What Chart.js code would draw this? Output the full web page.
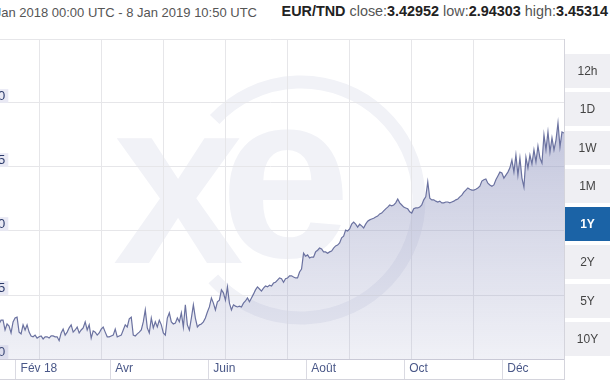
<!DOCTYPE html>
<html lang="fr">
<head>
<meta charset="utf-8">
<title>EUR/TND 1Y</title>
<script src="https://cdn.jsdelivr.net/npm/chart.js@4.4.1/dist/chart.umd.min.js"></script>
<style>
  html, body { margin: 0; padding: 0; background: #fff; overflow: hidden; }
  body { width: 610px; height: 380px; position: relative; font-family: "Liberation Sans", Arial, sans-serif; }
  #rango { position: absolute; top: 5px; right: 353px; white-space: nowrap; font-size: 13px; color: #555; }
  #cotation { position: absolute; top: 3px; right: 2px; white-space: nowrap; font-size: 14.4px; color: #555; }
  #cotation b { color: #222; }
  #wrap { position: absolute; left: -40px; top: 0; width: 605px; height: 380px; }
  .linea { position: absolute; background: #d4d4dc; }
  #botones { position: absolute; left: 565px; top: 54px; width: 45px; }
  #botones div { height: 34px; line-height: 34px; margin-bottom: 4.3px; background: #efeff3; text-align: center; font-size: 12px; color: #444; }
  #botones div.activo { background: #1b63a6; color: #fff; font-weight: bold; }
</style>
</head>
<body>
<div id="rango">8 Jan 2018 00:00 UTC - 8 Jan 2019 10:50 UTC</div>
<div id="cotation"><b>EUR/TND</b> close:<b>3.42952</b> low:<b>2.94303</b> high:<b>3.45314</b></div>
<div id="wrap"><canvas id="grafico"></canvas></div>
<div class="linea" style="left:564px; top:39px; width:1px; height:341px;"></div>
<div class="linea" style="left:0; top:379px; width:565px; height:1px;"></div>
<div id="botones">
  <div>12h</div><div>1D</div><div>1W</div><div>1M</div><div class="activo">1Y</div><div>2Y</div><div>5Y</div><div>10Y</div>
</div>
<script>
// EUR/TND, cotations du 8 Jan 2018 au 8 Jan 2019 (pas régulier)
const rates = [
  2.982, 2.996, 2.973, 2.987, 2.968, 2.996, 2.980, 2.963, 2.991, 2.975,
  2.998, 2.982, 2.991, 2.991, 2.968, 2.982, 2.977, 2.961, 2.987, 2.996,
  2.998, 2.963, 2.959, 2.980, 2.968, 2.980, 2.963, 2.954, 2.952, 2.956,
  2.949, 2.952, 2.954, 2.947, 2.952, 2.952, 2.949, 2.954, 2.954, 2.952,
  2.952, 2.943, 2.961, 2.970, 2.956, 2.963, 2.973, 2.980, 2.963, 2.968,
  2.975, 2.961, 2.968, 2.973, 2.987, 2.968, 2.980, 2.949, 2.966, 2.963,
  2.956, 2.961, 2.970, 2.975, 2.963, 2.952, 2.952, 2.954, 2.956, 2.970,
  2.952, 2.954, 2.956, 2.968, 2.980, 2.975, 2.994, 2.998, 2.956, 2.954,
  2.959, 2.963, 2.968, 2.987, 3.015, 2.973, 2.961, 2.996, 2.973, 2.987,
  2.975, 2.991, 2.980, 2.961, 2.956, 2.996, 3.008, 2.987, 2.982, 2.984,
  2.996, 2.987, 3.008, 2.975, 3.027, 2.980, 2.968, 2.996, 3.027, 2.996,
  2.975, 2.980, 2.982, 2.987, 2.996, 3.010, 3.022, 3.043, 3.031, 3.015,
  3.034, 3.038, 3.062, 3.055, 3.038, 3.069, 3.031, 3.015, 3.027, 3.024,
  3.022, 3.024, 3.022, 3.031, 3.036, 3.043, 3.034, 3.043, 3.052, 3.062,
  3.069, 3.064, 3.059, 3.066, 3.071, 3.069, 3.073, 3.071, 3.078, 3.080,
  3.085, 3.090, 3.088, 3.080, 3.088, 3.090, 3.095, 3.095, 3.092, 3.090,
  3.090, 3.104, 3.111, 3.148, 3.141, 3.144, 3.137, 3.139, 3.139, 3.151,
  3.155, 3.160, 3.158, 3.151, 3.151, 3.148, 3.151, 3.153, 3.160, 3.165,
  3.167, 3.172, 3.184, 3.188, 3.202, 3.200, 3.205, 3.216, 3.221, 3.216,
  3.209, 3.216, 3.212, 3.207, 3.216, 3.223, 3.226, 3.228, 3.230, 3.233,
  3.235, 3.240, 3.242, 3.247, 3.252, 3.256, 3.261, 3.259, 3.261, 3.266,
  3.275, 3.266, 3.261, 3.256, 3.254, 3.252, 3.245, 3.242, 3.252, 3.254,
  3.254, 3.256, 3.261, 3.273, 3.280, 3.315, 3.277, 3.273, 3.273, 3.270,
  3.268, 3.270, 3.266, 3.266, 3.268, 3.268, 3.266, 3.268, 3.270, 3.273,
  3.275, 3.280, 3.284, 3.291, 3.296, 3.301, 3.298, 3.296, 3.296, 3.298,
  3.301, 3.305, 3.317, 3.320, 3.322, 3.312, 3.308, 3.305, 3.308, 3.320,
  3.329, 3.338, 3.336, 3.324, 3.331, 3.338, 3.348, 3.366, 3.338, 3.378,
  3.331, 3.371, 3.324, 3.303, 3.373, 3.348, 3.378, 3.357, 3.390, 3.362,
  3.399, 3.371, 3.359, 3.425, 3.390, 3.432, 3.385, 3.418, 3.390, 3.413,
  3.453, 3.397, 3.432, 3.4295
];
const spanDays = 365.45;              // 8 Jan 2018 00:00 -> 8 Jan 2019 10:50
const monthDays = [24, 83, 144, 205, 266, 327];
const monthLabels = ['Fév 18', 'Avr', 'Juin', 'Août', 'Oct', 'Déc'];
const yMin = 2.90, yMax = 3.65, yStep = 0.15;
const gridStepDays = 38.6;

const points = rates.map((r, i) => ({ x: i * spanDays / (rates.length - 1), y: r }));

// logo "xe" en filigrane
const filigrane = {
  id: 'filigrane',
  beforeDraw(chart) {
    const ctx = chart.ctx;
    const dx = chart.chartArea.left + 23;
    ctx.save();
    ctx.fillStyle = '#f1f2f7';
    ctx.strokeStyle = '#f1f2f7';
    ctx.font = 'bold 235px "Liberation Sans"';
    ctx.textBaseline = 'alphabetic';
    ctx.fillText('x', 113 + dx, 263);
    ctx.fillText('e', 220 + dx, 257);
    ctx.lineWidth = 13;
    ctx.beginPath();
    ctx.arc(301 + dx, 200, 118, -137 * Math.PI / 180, 138 * Math.PI / 180);
    ctx.stroke();
    ctx.restore();
  }
};

new Chart(document.getElementById('grafico'), {
  type: 'line',
  data: {
    datasets: [{
      data: points,
      borderColor: '#6b72a0',
      borderWidth: 1.2,
      pointRadius: 0,
      tension: 0,
      fill: 'start',
      backgroundColor: (c) => {
        const area = c.chart.chartArea;
        if (!area) return 'rgba(150,155,195,0.3)';
        const g = c.chart.ctx.createLinearGradient(0, area.top, 0, area.bottom);
        g.addColorStop(0, 'rgba(150,155,195,0.72)');
        g.addColorStop(1, 'rgba(150,155,195,0.14)');
        return g;
      }
    }]
  },
  options: {
    responsive: true,
    maintainAspectRatio: false,
    animation: false,
    events: [],
    layout: { padding: { left: 17, right: 1, top: 39, bottom: 1 } },
    plugins: { legend: { display: false }, tooltip: { enabled: false } },
    scales: {
      x: {
        type: 'linear',
        min: 0,
        max: spanDays,
        afterBuildTicks: (s) => { s.ticks = monthDays.map(v => ({ value: v })); },
        afterFit: (s) => { s.height = 20; },
        grid: { drawOnChartArea: false, drawTicks: true, tickLength: 20, color: '#dadae2' },
        border: { display: true, color: '#c9c9d6' },
        ticks: {
          autoSkip: false, maxRotation: 0, minRotation: 0,
          align: 'start', labelOffset: 5, padding: -18,
          color: '#4a5888',
          font: { family: '"Liberation Sans", Arial, sans-serif', size: 12 },
          callback: (v, i) => monthLabels[i]
        }
      },
      xg: {
        type: 'linear',
        axis: 'x',
        position: 'bottom',
        min: 0,
        max: spanDays,
        afterFit: (s) => { s.height = 0; },
        grid: { drawOnChartArea: true, drawTicks: false, color: '#e6e6e9' },
        border: { display: false },
        ticks: { display: false, stepSize: gridStepDays }
      },
      y: {
        type: 'linear',
        min: yMin,
        max: yMax,
        afterFit: (s) => { s.width = 0; },
        grid: { drawTicks: false, color: '#e6e6e9' },
        border: { display: false },
        ticks: {
          stepSize: yStep,
          mirror: true,
          padding: 3,
          labelOffset: -7,
          color: '#2c3b6b',
          font: { family: '"Liberation Sans", Arial, sans-serif', size: 13, lineHeight: 1.05 },
          showLabelBackdrop: true,
          backdropColor: (c) => (c.tick && c.tick.value > yMax - 0.01) ? 'rgba(0,0,0,0)' : '#e9e9f4',
          backdropPadding: { left: 2, right: 3, top: 0, bottom: 0 },
          callback: (v) => (v > yMax - 0.01) ? '' : v.toFixed(2)
        }
      }
    }
  },
  plugins: [filigrane]
});
</script>
</body>
</html>
